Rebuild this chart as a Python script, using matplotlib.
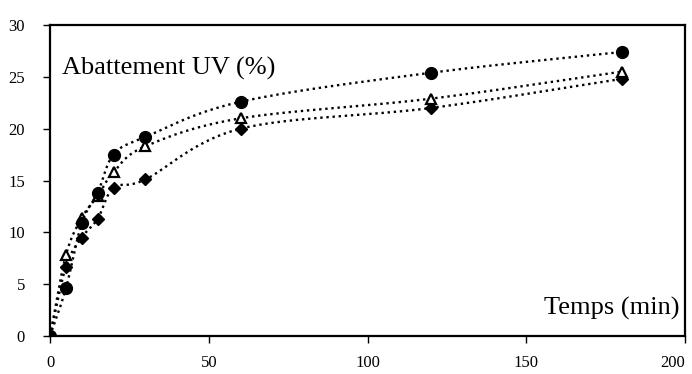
import numpy as np
import matplotlib.pyplot as plt

plt.rcParams['font.family'] = ['Liberation Serif', 'DejaVu Serif']

# Data
temps = [0, 5, 10, 15, 20, 30, 60, 120, 180]
serie_rond = [0, 4.6, 10.9, 13.8, 17.5, 19.2, 22.6, 25.4, 27.4]
serie_triangle = [0, 7.8, 11.4, 13.5, 15.8, 18.3, 21.0, 22.9, 25.5]
serie_losange = [0, 6.7, 9.5, 11.3, 14.3, 15.1, 20.0, 22.0, 24.8]

x_ticks = [0, 50, 100, 150, 200]
y_ticks = [0, 5, 10, 15, 20, 25, 30]


def smooth(x, y, n=30):
    # Catmull-Rom curve through the points, like a smoothed Excel line
    x = np.asarray(x, float)
    y = np.asarray(y, float)
    px = np.concatenate([[2 * x[0] - x[1]], x, [2 * x[-1] - x[-2]]])
    py = np.concatenate([[2 * y[0] - y[1]], y, [2 * y[-1] - y[-2]]])
    xs, ys = [], []
    t = np.linspace(0, 1, n)
    for i in range(1, len(px) - 2):
        for p, out in ((px, xs), (py, ys)):
            p0, p1, p2, p3 = p[i - 1], p[i], p[i + 1], p[i + 2]
            out.extend(0.5 * ((2 * p1) + (-p0 + p2) * t
                              + (2 * p0 - 5 * p1 + 4 * p2 - p3) * t ** 2
                              + (-p0 + 3 * p1 - 3 * p2 + p3) * t ** 3))
    return xs, ys


fig = plt.figure(figsize=(6.92, 3.74), dpi=100)
ax = fig.add_axes([0.0723, 0.1016, 0.9177, 0.8314])

for y in (serie_losange, serie_rond, serie_triangle):
    sx, sy = smooth(temps, y)
    ax.plot(sx, sy, color='black', linestyle=(0, (1, 1.6)), linewidth=1.7, zorder=2)

ax.plot(temps, serie_losange, linestyle='none', marker='D', markersize=6,
        color='black', zorder=3)
ax.plot(temps, serie_triangle, linestyle='none', marker='^', markersize=7.5,
        markerfacecolor='white', markeredgecolor='black', markeredgewidth=1.6, zorder=4)
ax.plot(temps, serie_rond, linestyle='none', marker='o', markersize=8.5,
        color='black', zorder=5)

ax.set_xlim(0, 200)
ax.set_ylim(0, 30)
ax.set_xticks(x_ticks)
ax.set_yticks(y_ticks)
ax.tick_params(axis='both', direction='out', length=5, width=1, labelsize=12)
ax.tick_params(axis='y', pad=13)
ax.tick_params(axis='x', pad=9)
# last label sits against the right edge, as in the original
ax.get_xticklabels()[-1].set_horizontalalignment('right')
ax.get_xticklabels()[-1].set_x(200)
for s in ax.spines.values():
    s.set_linewidth(1.6)

ax.text(0.019, 0.842, 'Abattement UV (%)', transform=ax.transAxes,
        fontsize=19, ha='left', va='baseline')
ax.text(0.992, 0.068, 'Temps (min)', transform=ax.transAxes,
        fontsize=19, ha='right', va='baseline')

fig.savefig('out.png', dpi=100)
